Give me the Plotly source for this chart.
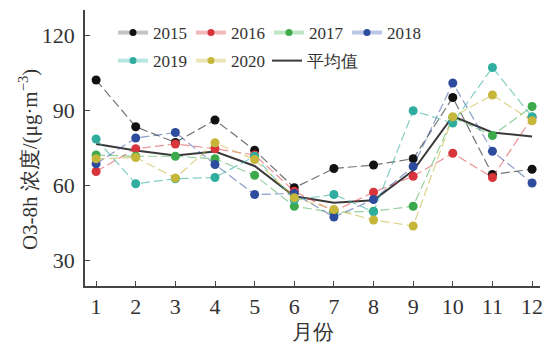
import plotly.graph_objects as go

# Monthly O3-8h concentration (μg·m^-3), 2015–2020, and the multi-year mean
months = list(range(1, 13))
years = ["2015", "2016", "2017", "2018", "2019", "2020"]
o3_2015 = [102.0, 83.3, 77.0, 86.0, 73.9, 58.9, 66.6, 68.0, 70.5, 95.0, 64.2, 66.3]
o3_2016 = [65.4, 74.5, 76.4, 74.5, 72.0, 57.5, 49.5, 57.1, 63.5, 72.7, 63.0, 87.0]
o3_2017 = [72.0, 71.5, 71.5, 70.5, 63.9, 51.5, 49.0, 49.5, 51.5, 87.0, 79.8, 91.4]
o3_2018 = [68.5, 78.8, 81.0, 68.2, 56.2, 56.6, 47.2, 54.2, 67.4, 100.8, 73.5, 60.8]
o3_2019 = [78.4, 60.5, 62.5, 63.0, 71.5, 54.0, 56.2, 49.3, 89.7, 84.8, 107.0, 87.3]
o3_2020 = [70.5, 71.0, 62.8, 76.9, 70.2, 54.9, 50.2, 46.0, 43.6, 87.3, 96.0, 85.7]
o3_mean = [76.4, 73.8, 71.8, 73.4, 67.6, 55.5, 52.9, 53.9, 65.8, 87.5, 81.0, 79.4]
mean_name = "平均值"
y_ticks = [30, 60, 90, 120]
y_title = "O3-8h 浓度/(μg·m<sup>−3</sup>)"
x_title = "月份"

series = [o3_2015, o3_2016, o3_2017, o3_2018, o3_2019, o3_2020]
marker_colors = ["#111111", "#d8343c", "#3caa4c", "#2e4c9e", "#2fae9f", "#c6b63a"]
line_colors = ["rgba(70,70,70,0.75)", "rgba(216,52,60,0.55)", "rgba(60,170,76,0.55)",
               "rgba(46,76,158,0.55)", "rgba(47,174,159,0.6)", "rgba(198,182,58,0.6)"]
legend_line_colors = ["#c4c4c4", "#f2b8bb", "#bfe6c4", "#bcc6e6", "#b8e6e0", "#ece6b8"]

SERIF = "Liberation Serif"
fig = go.Figure()

# mean curve (solid, underneath the yearly markers)
fig.add_trace(go.Scatter(x=months, y=o3_mean, mode="lines",
                         line=dict(color="#3a3a3a", width=2), showlegend=False))

for name, vals, mc, lc in zip(years, series, marker_colors, line_colors):
    fig.add_trace(go.Scatter(
        x=months, y=vals, mode="lines+markers", showlegend=False,
        line=dict(color=lc, width=1.2, dash="9px,4px"),
        marker=dict(color=mc, size=9),
    ))

# legend entries: light thick line with a dot
for i, (name, mc, lc) in enumerate(zip(years, marker_colors, legend_line_colors)):
    fig.add_trace(go.Scatter(
        x=[None], y=[None], mode="lines+markers", name=name,
        line=dict(color=lc, width=4), marker=dict(color=mc, size=7),
        legend="legend" if i < 4 else "legend2",
    ))
fig.add_trace(go.Scatter(x=[None], y=[None], mode="lines", name=mean_name,
                         line=dict(color="#3a3a3a", width=2), legend="legend3"))

legend_common = dict(orientation="h", xref="paper", yref="paper",
                     xanchor="left", yanchor="middle",
                     bgcolor="rgba(0,0,0,0)", borderwidth=0,
                     font=dict(family=SERIF, size=17, color="#333333"),
                     itemwidth=30, tracegroupgap=0)

fig.update_layout(
    width=544, height=344,
    margin=dict(l=85, r=4, t=10, b=58, autoexpand=False),
    paper_bgcolor="white", plot_bgcolor="white",
    font=dict(family=SERIF, size=22, color="#333333"),
    legend=dict(x=0.0615, y=0.9167, entrywidth=33, entrywidthmode="pixels", **legend_common),
    legend2=dict(x=0.0615, y=0.815, entrywidth=33, entrywidthmode="pixels", **legend_common),
    legend3=dict(x=0.40, y=0.815, **legend_common),
    xaxis=dict(range=[0.72, 12.2], tickmode="array", tickvals=months,
               ticks="inside", ticklen=5, tickwidth=1.2, tickcolor="#444",
               showline=True, linecolor="#444", linewidth=1.5,
               showgrid=False, zeroline=False,
               title=dict(text=x_title, font=dict(size=21), standoff=6)),
    yaxis=dict(range=[19.6, 130], tickmode="array", tickvals=y_ticks,
               ticks="inside", ticklen=5, tickwidth=1.2, tickcolor="#444",
               showline=True, linecolor="#444", linewidth=1.5,
               showgrid=False, zeroline=False, ticklabelstandoff=4),
    annotations=[dict(text=y_title, textangle=-90, showarrow=False,
                      xref="paper", yref="paper", x=-0.136, y=0.5,
                      xshift=5, yshift=-12,
                      xanchor="center", yanchor="middle",
                      font=dict(family=SERIF, size=21, color="#333333"))],
)

fig.write_html("out.html")
